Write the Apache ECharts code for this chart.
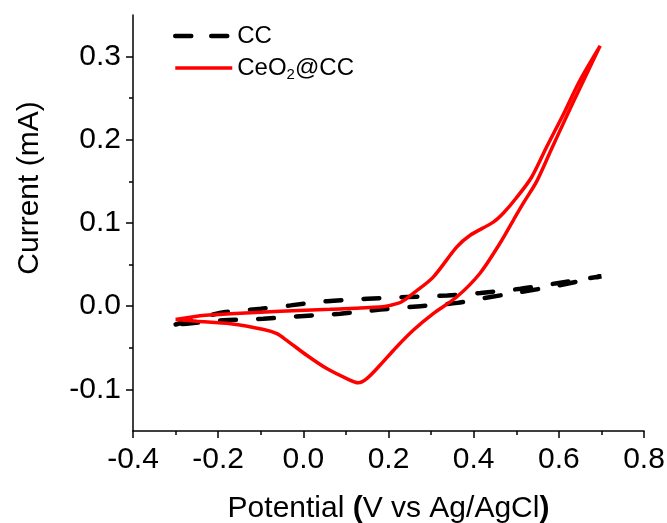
<!DOCTYPE html>
<html>
<head>
<meta charset="utf-8">
<script src="https://cdn.jsdelivr.net/npm/echarts@6/dist/echarts.min.js"></script>
<style>
  html, body { margin: 0; padding: 0; background: #fff; }
  #main { width: 667px; height: 523px; }
</style>
</head>
<body>
<div id="main"></div>
<script>
// CV loops, [potential (V), current (mA)]
var ccForward = [
  [-0.30, -0.022], [-0.25, -0.015], [-0.183, -0.007], [-0.10, -0.003], [-0.03, 0.001],
  [0.056, 0.006], [0.15, 0.009], [0.244, 0.011], [0.338, 0.013], [0.416, 0.016],
  [0.51, 0.021], [0.60, 0.028], [0.70, 0.036]
];
var ccReverse = [
  [0.70, 0.036], [0.60, 0.025], [0.51, 0.017], [0.416, 0.009], [0.362, 0.004],
  [0.275, 0.0], [0.181, -0.004], [0.087, -0.009], [-0.007, -0.012], [-0.094, -0.015],
  [-0.188, -0.017], [-0.274, -0.021], [-0.30, -0.022]
];
var ceoForward = [
  [-0.30, -0.016], [-0.23, -0.011], [-0.171, -0.009], [-0.054, -0.006], [0.063, -0.0036],
  [0.18, -0.001], [0.204, 0.001], [0.23, 0.005], [0.262, 0.017], [0.305, 0.035],
  [0.36, 0.071], [0.391, 0.085], [0.446, 0.101], [0.47, 0.112], [0.50, 0.130],
  [0.536, 0.155], [0.571, 0.191], [0.611, 0.231], [0.649, 0.271], [0.697, 0.313]
];
var ceoReverse = [
  [0.697, 0.313], [0.655, 0.268], [0.618, 0.228], [0.582, 0.188], [0.548, 0.150],
  [0.518, 0.125], [0.495, 0.105], [0.461, 0.075], [0.414, 0.039], [0.36, 0.011],
  [0.305, -0.009], [0.258, -0.029], [0.219, -0.049], [0.18, -0.071], [0.149, -0.087],
  [0.129, -0.092], [0.102, -0.087], [0.055, -0.075], [0.008, -0.059], [-0.039, -0.041],
  [-0.062, -0.033], [-0.093, -0.028], [-0.171, -0.021], [-0.25, -0.018], [-0.30, -0.016]
];
var seriesNames = ['CC', 'CeO2@CC'];
var yTicks = [-0.1, 0, 0.1, 0.2, 0.3];
var yMinorTicks = [-0.05, 0.05, 0.15, 0.25];

var font = 'Liberation Sans, Arial, sans-serif';
var chart = echarts.init(document.getElementById('main'), null, { renderer: 'canvas' });

var axisLine = { show: true, onZero: false, lineStyle: { color: '#000', width: 1.5 } };

var option = {
  backgroundColor: '#fff',
  animation: false,
  grid: { left: 133, right: 23, top: 15, bottom: 92, outerBoundsMode: 'none' },
  legend: {
    orient: 'vertical',
    left: 168,
    top: 19,
    itemWidth: 57,
    itemHeight: 14,
    itemGap: 8,
    data: [
      { name: seriesNames[0], lineStyle: { width: 4.5, type: [16, 20], cap: 'round' } },
      { name: seriesNames[1], lineStyle: { width: 3.5 } }
    ],
    itemStyle: { opacity: 0 },
    formatter: function (name) {
      if (name === 'CeO2@CC') return '{n|CeO}{s|2}{n|@CC}';
      return '{n|' + name + '}';
    },
    textStyle: {
      fontSize: 24, color: '#000', fontFamily: font,
      rich: {
        n: { fontSize: 24, color: '#000', fontFamily: font },
        s: { fontSize: 15, color: '#000', fontFamily: font, padding: [14, 0, 0, 0] }
      }
    }
  },
  xAxis: {
    type: 'value',
    min: -0.4,
    max: 0.8,
    interval: 0.2,
    name: 'Potential {b|(}V vs Ag/AgCl{b|)}',
    nameLocation: 'middle',
    nameGap: 63,
    nameTextStyle: {
      fontSize: 30, color: '#000', fontFamily: font,
      rich: { b: { fontSize: 30, fontWeight: 'bold', color: '#000', fontFamily: font } }
    },
    axisLine: axisLine,
    axisTick: { show: true, length: 7, lineStyle: { color: '#000', width: 1.5 } },
    minorTick: { show: true, splitNumber: 2, length: 4, lineStyle: { color: '#000', width: 1.5 } },
    splitLine: { show: false },
    axisLabel: {
      fontSize: 30, color: '#000', fontFamily: font, margin: 14,
      formatter: function (v) { return v.toFixed(1); }
    }
  },
  yAxis: [{
    type: 'value',
    min: -0.15,
    max: 0.35,
    name: 'Current (mA)',
    nameLocation: 'middle',
    nameGap: 88,
    nameTextStyle: { fontSize: 30, color: '#000', fontFamily: font, padding: [0, 0, 0, 70] },
    axisLine: axisLine,
    axisTick: { show: true, length: 7, customValues: yTicks, lineStyle: { color: '#000', width: 1.5 } },
    splitLine: { show: false },
    axisLabel: {
      fontSize: 30, color: '#000', fontFamily: font, margin: 12, customValues: yTicks,
      formatter: function (v) { return v.toFixed(1); }
    }
  }, {
    type: 'value',
    position: 'left',
    min: -0.15,
    max: 0.35,
    axisLine: { show: false, onZero: false },
    axisTick: { show: true, length: 4, customValues: yMinorTicks, lineStyle: { color: '#000', width: 1.5 } },
    axisLabel: { show: false },
    splitLine: { show: false }
  }],
  series: [{
    name: 'CC',
    type: 'line',
    data: ccForward.concat(ccReverse.slice(1)),
    symbol: 'none',
    smooth: 0.3,
    lineStyle: { color: '#000', width: 4.5, type: [16, 22], cap: 'round' },
    itemStyle: { color: '#000' },
    z: 2
  }, {
    name: 'CeO2@CC',
    type: 'line',
    data: ceoForward.concat(ceoReverse.slice(1)),
    symbol: 'none',
    smooth: 0.3,
    lineStyle: { color: '#ff0000', width: 3.5 },
    itemStyle: { color: '#ff0000' },
    z: 3
  }]
};

chart.setOption(option);
</script>
</body>
</html>
